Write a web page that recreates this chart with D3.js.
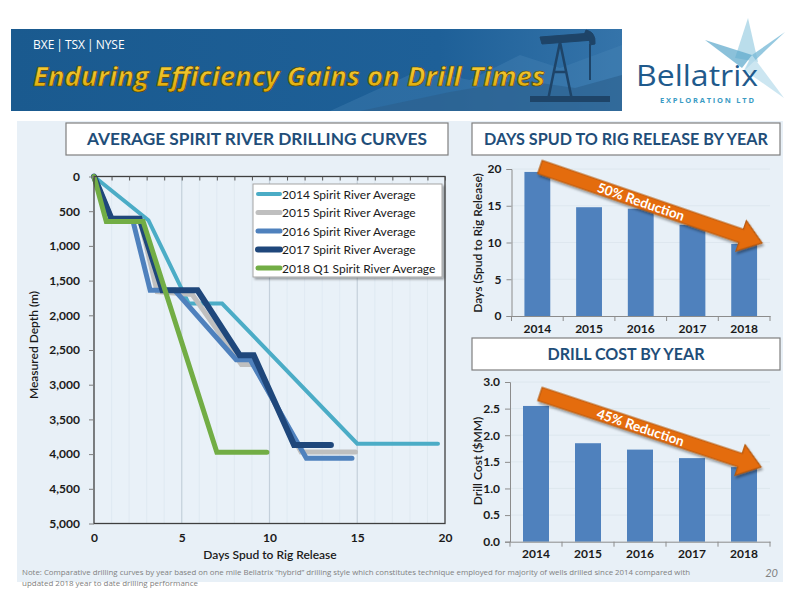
<!DOCTYPE html>
<html>
<head>
<meta charset="utf-8">
<script src="https://cdn.jsdelivr.net/npm/d3@7/dist/d3.min.js"></script>
<style>
  body { margin: 0; background: #fff; }
  svg { display: block; font-family: Lato, "Open Sans", sans-serif; }
</style>
</head>
<body>
<svg width="800" height="600"></svg>
<script>
"use strict";

// drilling curves: [days, measured depth (m)]
const curveNames = ["2014 Spirit River Average", "2015 Spirit River Average", "2016 Spirit River Average",
                    "2017 Spirit River Average", "2018 Q1 Spirit River Average"];
const curve2014 = [[0, 0], [3.1, 630], [5.4, 1830], [7.3, 1830], [15.0, 3850], [19.6, 3850]];
const curve2015 = [[0, 0], [1.0, 600], [2.6, 600], [3.6, 1660], [5.6, 1700], [8.4, 2710], [9.1, 2710], [11.8, 3970], [14.9, 3970]];
const curve2016 = [[0, 0], [1.0, 620], [2.2, 620], [3.2, 1640], [4.6, 1640], [8.1, 2640], [8.9, 2640], [12.1, 4060], [14.7, 4060]];
const curve2017 = [[0, 0], [1.0, 610], [2.6, 610], [3.9, 1640], [5.9, 1640], [8.3, 2575], [9.1, 2575], [11.4, 3870], [13.5, 3870]];
const curve2018 = [[0, 0], [0.7, 650], [2.8, 650], [7.0, 3975], [9.85, 3975]];

const depthTicks = [0, 500, 1000, 1500, 2000, 2500, 3000, 3500, 4000, 4500, 5000];
const dayTicks = [0, 5, 10, 15, 20];

// bar charts
const years = ["2014", "2015", "2016", "2017", "2018"];
const daysByYear = [19.6, 14.8, 14.6, 12.4, 9.8];
const costByYear = [2.55, 1.85, 1.73, 1.57, 1.40];
const daysTicks = [0, 5, 10, 15, 20];
const costTicks = [0, 0.5, 1.0, 1.5, 2.0, 2.5, 3.0];

const curveColors = ["#4bacc6", "#bfbfbf", "#4f81bd", "#1f477b", "#72ad45"];
const curveWidths = [4, 5, 5, 6, 5];
const barColor = "#4f81bd";
const panelColor = "#e8f0f7";
const titleBlue = "#1f4e79";

const svg = d3.select("svg");

// ---------- header ----------
const defs = svg.append("defs");
const bannerGrad = defs.append("linearGradient").attr("id", "banner").attr("x1", 0).attr("x2", 1);
bannerGrad.append("stop").attr("offset", 0).attr("stop-color", "#1a5a8f");
bannerGrad.append("stop").attr("offset", 0.7).attr("stop-color", "#1e6098");
bannerGrad.append("stop").attr("offset", 1).attr("stop-color", "#3574aa");
const goldGrad = defs.append("linearGradient").attr("id", "gold").attr("x1", 0).attr("x2", 0).attr("y1", 0).attr("y2", 1);
goldGrad.append("stop").attr("offset", 0).attr("stop-color", "#ffd94a");
goldGrad.append("stop").attr("offset", 1).attr("stop-color", "#d9a400");
const shadow = defs.append("filter").attr("id", "shadow").attr("x", "-10%").attr("y", "-10%").attr("width", "130%").attr("height", "130%");
shadow.append("feDropShadow").attr("dx", 2).attr("dy", 2).attr("stdDeviation", 1.2).attr("flood-color", "#000").attr("flood-opacity", 0.35);

svg.append("rect").attr("x", 11).attr("y", 29).attr("width", 611).attr("height", 82).attr("fill", "url(#banner)");
// hills and pumpjack silhouette
svg.append("path")
    .attr("d", "M330,111 L420,70 L470,80 L520,55 L560,68 L622,45 L622,111 Z")
    .attr("fill", "#4a86b8").attr("opacity", 0.35);
svg.append("path")
    .attr("d", "M360,111 L450,92 L520,80 L575,88 L622,75 L622,111 Z")
    .attr("fill", "#2b5f8c").attr("opacity", 0.6);
const pump = svg.append("g").attr("fill", "#1e4468").attr("stroke", "#1e4468");
pump.append("path").attr("d", "M540,37 L592,33 L594,40 L542,44 Z");
pump.append("path").attr("d", "M586,30 q10,2 9,14 l-5,1 q0,-9 -6,-10 Z");
pump.append("path").attr("d", "M560,42 L548,100 M560,42 L572,100 M553,72 L567,72").attr("fill", "none").attr("stroke-width", 2.5);
pump.append("path").attr("d", "M590,44 L590,80").attr("fill", "none").attr("stroke-width", 2);
pump.append("rect").attr("x", 530).attr("y", 96).attr("width", 80).attr("height", 6).attr("stroke", "none");

svg.append("text").attr("x", 33).attr("y", 49).attr("fill", "#fff")
    .attr("font-family", "'Liberation Sans Narrow', 'Open Sans', sans-serif").attr("font-size", 12)
    .text("BXE\u2009|\u2009TSX\u2009|\u2009NYSE");
svg.append("text").attr("x", 33).attr("y", 86)
    .attr("font-family", "'Open Sans', sans-serif").attr("font-style", "italic").attr("font-weight", "bold")
    .attr("font-size", 27).attr("fill", "url(#gold)").attr("stroke", "#5b4600").attr("stroke-width", 0.7)
    .attr("textLength", 512).attr("lengthAdjust", "spacingAndGlyphs")
    .text("Enduring Efficiency Gains on Drill Times");

// logo
const star = svg.append("g");
star.append("path").attr("d", "M748,18 L758,62 L735,58 Z").attr("fill", "#a9d4e6").attr("opacity", 0.8);
star.append("path").attr("d", "M785,32 L752,55 L745,70 Z").attr("fill", "#7cbcd8").attr("opacity", 0.8);
star.append("path").attr("d", "M752,55 L784,98 L744,70 Z").attr("fill", "#bfe0ee").attr("opacity", 0.8);
star.append("path").attr("d", "M705,40 L752,55 L742,68 Z").attr("fill", "#5aa7cb").attr("opacity", 0.7);
svg.append("text").attr("x", 636).attr("y", 86).attr("fill", "#1f5a8c")
    .attr("font-family", "'Open Sans', sans-serif").attr("font-size", 29)
    .attr("textLength", 122).attr("lengthAdjust", "spacingAndGlyphs").text("Bellatrix");
svg.append("text").attr("x", 660).attr("y", 103).attr("fill", "#3a9bc4")
    .attr("font-family", "'Open Sans', sans-serif").attr("font-size", 7.5).attr("font-weight", "bold")
    .attr("textLength", 94).text("EXPLORATION LTD");

// ---------- panel ----------
svg.append("rect").attr("x", 17).attr("y", 121).attr("width", 766).attr("height", 461).attr("fill", panelColor);

function titleBox(x, y, w, h, label, textW) {
    svg.append("rect").attr("x", x).attr("y", y).attr("width", w).attr("height", h)
        .attr("fill", "#fff").attr("stroke", "#7f7f7f").attr("stroke-width", 1.2);
    svg.append("text").attr("x", x + w / 2).attr("y", y + h / 2 + 6)
        .attr("text-anchor", "middle").attr("font-weight", "bold").attr("font-size", 17)
        .attr("fill", titleBlue).attr("textLength", textW).attr("lengthAdjust", "spacingAndGlyphs")
        .text(label);
}
titleBox(66, 123, 382, 32, "AVERAGE SPIRIT RIVER DRILLING CURVES", 340);
titleBox(472, 123, 308, 32, "DAYS SPUD TO RIG RELEASE BY YEAR", 284);
titleBox(472, 338, 308, 32, "DRILL COST BY YEAR", 157);

// ---------- drilling curves ----------
const x = d3.scaleLinear().domain([0, 20]).range([94, 445]);
const y = d3.scaleLinear().domain([0, 5000]).range([176.5, 523.5]);

const plot = svg.append("g");
plot.append("rect").attr("x", x(0)).attr("y", y(0)).attr("width", x(20) - x(0)).attr("height", y(5000) - y(0))
    .attr("fill", "#e9f1f8");
plot.selectAll("line.minor").data(d3.range(1, 20).filter(d => d % 5 !== 0)).join("line")
    .attr("class", "minor")
    .attr("x1", d => x(d)).attr("x2", d => x(d)).attr("y1", y(0)).attr("y2", y(5000))
    .attr("stroke", "#dde7f0").attr("stroke-width", 0.8);
plot.selectAll("line.major").data([5, 10, 15]).join("line")
    .attr("class", "major")
    .attr("x1", d => x(d)).attr("x2", d => x(d)).attr("y1", y(0)).attr("y2", y(5000))
    .attr("stroke", "#c4d0db").attr("stroke-width", 1.2);

const curves = [curve2014, curve2015, curve2016, curve2017, curve2018];
const line = d3.line().x(d => x(d[0])).y(d => y(d[1]));
plot.selectAll("path.curve").data(curves).join("path")
    .attr("class", "curve")
    .attr("d", line)
    .attr("fill", "none")
    .attr("stroke", (d, i) => curveColors[i])
    .attr("stroke-width", (d, i) => curveWidths[i])
    .attr("stroke-linecap", "round");

plot.append("rect").attr("x", x(0)).attr("y", y(0)).attr("width", x(20) - x(0)).attr("height", y(5000) - y(0))
    .attr("fill", "none").attr("stroke", "#3f3f3f").attr("stroke-width", 1.3);

// top minor ticks
const topAxis = svg.append("g").attr("transform", `translate(0,${y(0)})`)
    .call(d3.axisBottom(x).ticks(20).tickSize(4).tickFormat(""));
topAxis.select(".domain").remove();
topAxis.selectAll("line").attr("stroke", "#555");

const yAxis = svg.append("g").attr("transform", `translate(${x(0)},0)`)
    .call(d3.axisLeft(y).tickValues(depthTicks).tickSize(5).tickPadding(9).tickFormat(d3.format(",")));
yAxis.select(".domain").remove();
yAxis.selectAll("line").attr("stroke", "#7f7f7f");
yAxis.selectAll("text").attr("font-family", "Lato, sans-serif").attr("font-size", 12)
    .attr("font-weight", "bold").attr("fill", "#1a1a1a");

const xAxis = svg.append("g").attr("transform", `translate(0,${y(5000)})`)
    .call(d3.axisBottom(x).tickValues(dayTicks).tickSize(0).tickPadding(10));
xAxis.select(".domain").remove();
xAxis.selectAll("text").attr("font-family", "Lato, sans-serif").attr("font-size", 12)
    .attr("font-weight", "bold").attr("fill", "#1a1a1a");

svg.append("text").attr("x", 270).attr("y", 559).attr("text-anchor", "middle")
    .attr("font-size", 12).attr("font-weight", 600).attr("fill", "#1a1a1a")
    .text("Days Spud to Rig Release");
svg.append("text").attr("transform", "translate(38,345) rotate(-90)").attr("text-anchor", "middle")
    .attr("font-size", 12).attr("font-weight", 600).attr("fill", "#1a1a1a")
    .text("Measured Depth (m)");

// legend
const legend = svg.append("g").attr("transform", "translate(253,184)");
legend.append("rect").attr("width", 189).attr("height", 93).attr("fill", "#fff")
    .attr("stroke", "#a6a6a6").attr("filter", "url(#shadow)");
const item = legend.selectAll("g.item").data(curveNames).join("g")
    .attr("class", "item")
    .attr("transform", (d, i) => `translate(0,${10 + i * 18.5})`);
item.append("line").attr("x1", 5).attr("x2", 27)
    .attr("stroke", (d, i) => curveColors[i]).attr("stroke-width", (d, i) => curveWidths[i])
    .attr("stroke-linecap", "round");
item.append("text").attr("x", 29).attr("y", 4.5).attr("font-size", 12).attr("fill", "#1a1a1a")
    .text(d => d);

// ---------- bar charts ----------
function barChart(opts) {
    const bx = d3.scaleBand().domain(years).range([opts.left, opts.right]).paddingInner(0.5).paddingOuter(0.25);
    const by = d3.scaleLinear().domain(opts.domain).range([opts.bottom, opts.top]);
    const g = svg.append("g");

    g.selectAll("line.grid").data(opts.ticks.slice(1)).join("line")
        .attr("class", "grid")
        .attr("x1", opts.left).attr("x2", opts.right)
        .attr("y1", d => by(d)).attr("y2", d => by(d))
        .attr("stroke", "#dbe4ec").attr("stroke-width", 0.8);

    g.selectAll("rect.bar").data(opts.values).join("rect")
        .attr("class", "bar")
        .attr("x", (d, i) => bx(years[i]))
        .attr("width", bx.bandwidth())
        .attr("y", d => by(d))
        .attr("height", d => by(0) - by(d))
        .attr("fill", barColor);

    const ya = g.append("g").attr("transform", `translate(${opts.left},0)`)
        .call(d3.axisLeft(by).tickValues(opts.ticks).tickSize(5).tickPadding(5).tickFormat(opts.format));
    ya.select(".domain").attr("stroke", "#8c8c8c");
    ya.selectAll("line").attr("stroke", "#8c8c8c");
    ya.selectAll("text").attr("font-family", "Lato, sans-serif").attr("font-size", 12)
        .attr("font-weight", "bold").attr("fill", "#1a1a1a");

    const xa = g.append("g").attr("transform", `translate(0,${opts.bottom})`)
        .call(d3.axisBottom(bx).tickSize(0).tickPadding(8));
    xa.select(".domain").attr("stroke", "#8c8c8c");
    xa.selectAll("text").attr("font-family", "Lato, sans-serif").attr("font-size", 12)
        .attr("font-weight", "bold").attr("fill", "#1a1a1a");
    // category separators
    xa.selectAll("line.sep").data(d3.range(0, years.length + 1)).join("line")
        .attr("class", "sep")
        .attr("x1", i => opts.left + i * (opts.right - opts.left) / years.length)
        .attr("x2", i => opts.left + i * (opts.right - opts.left) / years.length)
        .attr("y1", 0).attr("y2", 5)
        .attr("stroke", "#8c8c8c");

    svg.append("text")
        .attr("transform", `translate(${opts.labelX},${opts.labelY}) rotate(-90)`)
        .attr("text-anchor", "middle").attr("font-size", 12).attr("font-weight", 600).attr("fill", "#1a1a1a")
        .text(opts.label);
}

barChart({
    left: 511.5, right: 770, top: 169, bottom: 316,
    domain: [0, 20], ticks: daysTicks, format: d3.format("d"),
    values: daysByYear, label: "Days (Spud to Rig Release)", labelX: 482, labelY: 243
});
barChart({
    left: 510, right: 770, top: 382, bottom: 541.7,
    domain: [0, 3], ticks: costTicks, format: d3.format(".1f"),
    values: costByYear, label: "Drill Cost ($MM)", labelX: 482, labelY: 461
});

// reduction arrows
function arrow(x1, y1, x2, y2, label) {
    const dx = x2 - x1, dy = y2 - y1;
    const len = Math.hypot(dx, dy);
    const ang = Math.atan2(dy, dx) * 180 / Math.PI;
    const sw = 7, hw = 16, hl = 22;
    const g = svg.append("g").attr("transform", `translate(${x1},${y1}) rotate(${ang})`);
    g.append("path")
        .attr("d", `M0,${-sw} L${len - hl},${-sw} L${len - hl},${-hw} L${len},0 L${len - hl},${hw} L${len - hl},${sw} L0,${sw} Z`)
        .attr("fill", "#e46c0a").attr("stroke", "#b65708").attr("stroke-width", 1.2)
        .attr("filter", "url(#shadow)");
    g.append("text").attr("x", len * 0.455).attr("y", 5)
        .attr("text-anchor", "middle").attr("font-size", 13.5).attr("font-weight", "bold")
        .attr("fill", "#fff").text(label);
}
arrow(540, 167, 762, 243, "50% Reduction");
arrow(540, 394, 761, 467, "45% Reduction");

// ---------- footer ----------
svg.append("text").attr("x", 22).attr("y", 575).attr("fill", "#808080")
    .attr("font-family", "'Liberation Sans Narrow', 'Open Sans', sans-serif").attr("font-size", 8)
    .attr("textLength", 668).attr("lengthAdjust", "spacingAndGlyphs")
    .text("Note: Comparative drilling curves by year based on one mile Bellatrix \u201chybrid\u201d drilling style which constitutes technique employed for majority of wells drilled since 2014 compared with");
svg.append("text").attr("x", 22).attr("y", 586).attr("fill", "#808080")
    .attr("font-family", "'Liberation Sans Narrow', 'Open Sans', sans-serif").attr("font-size", 8)
    .attr("textLength", 176).attr("lengthAdjust", "spacingAndGlyphs")
    .text("updated 2018 year to date drilling performance");
svg.append("text").attr("x", 778).attr("y", 577).attr("text-anchor", "end").attr("fill", "#808080")
    .attr("font-style", "italic").attr("font-size", 11).text("20");
</script>
</body>
</html>
